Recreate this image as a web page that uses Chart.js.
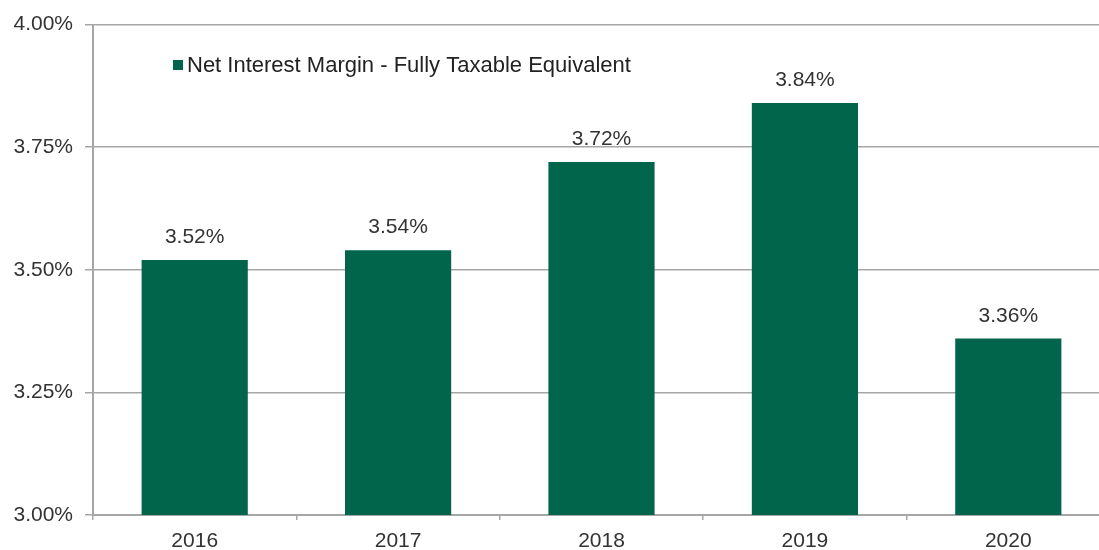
<!DOCTYPE html>
<html>
<head>
<meta charset="utf-8">
<script src="https://cdn.jsdelivr.net/npm/chart.js@4"></script>
<style>
  html, body { margin: 0; padding: 0; background: #fff; overflow: hidden; }
  #wrap { width: 1110px; height: 550px; }
</style>
</head>
<body>
<div id="wrap"><canvas id="chart"></canvas></div>
<script>
// Chart data
const years = ['2016', '2017', '2018', '2019', '2020'];
const marginValues = [3.52, 3.54, 3.72, 3.84, 3.36];
const seriesLabel = 'Net Interest Margin - Fully Taxable Equivalent';
const yTicks = [3.00, 3.25, 3.50, 3.75, 4.00];

const barColor = '#00654a';
const gridColor = '#a6a6a6';
const textColor = '#333333';
const font = 'Liberation Sans, Arial, sans-serif';

// Value labels above each bar
const valueLabels = {
    id: 'valueLabels',
    afterDatasetsDraw(chart) {
        const ctx = chart.ctx;
        const meta = chart.getDatasetMeta(0);
        ctx.save();
        ctx.fillStyle = textColor;
        ctx.font = '21px ' + font;
        ctx.textAlign = 'center';
        ctx.textBaseline = 'bottom';
        meta.data.forEach((bar, i) => {
            ctx.fillText(marginValues[i].toFixed(2) + '%', bar.x, bar.y - 12);
        });
        ctx.restore();
    }
};

// Legend drawn inside the plot area
const insideLegend = {
    id: 'insideLegend',
    afterDraw(chart) {
        const ctx = chart.ctx;
        const x = chart.chartArea.left + 80;
        const y = 65;
        ctx.save();
        ctx.fillStyle = barColor;
        ctx.fillRect(x, y - 5, 10, 10);
        ctx.fillStyle = '#222';
        ctx.font = '22px ' + font;
        ctx.textBaseline = 'middle';
        ctx.fillText(seriesLabel, x + 14, y + 1);
        ctx.restore();
    }
};

new Chart(document.getElementById('chart'), {
    type: 'bar',
    data: {
        labels: years,
        datasets: [{
            label: seriesLabel,
            data: marginValues,
            backgroundColor: barColor,
            borderWidth: 0,
            barPercentage: 0.522,
            categoryPercentage: 1
        }]
    },
    options: {
        responsive: true,
        maintainAspectRatio: false,
        animation: false,
        layout: { padding: { top: 8, right: 0, bottom: 0, left: 0 } },
        plugins: {
            legend: { display: false },
            tooltip: { enabled: false }
        },
        scales: {
            x: {
                grid: {
                    display: true,
                    drawOnChartArea: false,
                    color: gridColor,
                    lineWidth: 1.5,
                    tickLength: 5
                },
                border: { color: gridColor, width: 2 },
                ticks: {
                    color: textColor,
                    font: { size: 21, family: font },
                    padding: 9
                },
                afterFit(scale) { scale.height = 35; }
            },
            y: {
                min: 3.0,
                max: 4.0,
                afterBuildTicks(scale) {
                    scale.ticks = yTicks.map(v => ({ value: v }));
                },
                grid: {
                    color: gridColor,
                    lineWidth: 1.5,
                    tickLength: 8
                },
                border: { color: gridColor, width: 2 },
                ticks: {
                    color: textColor,
                    font: { size: 21, family: font },
                    padding: 12,
                    callback: v => v.toFixed(2) + '%'
                },
                afterFit(scale) { scale.width = 93; }
            }
        }
    },
    plugins: [valueLabels, insideLegend]
});
</script>
</body>
</html>
